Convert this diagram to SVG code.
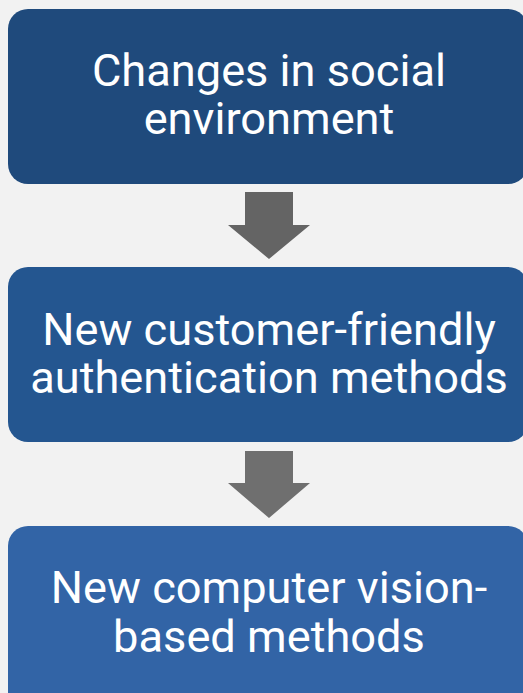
<svg xmlns="http://www.w3.org/2000/svg" width="523" height="693" viewBox="0 0 523 693">
<style>
.lbl{font-family:Roboto,"Liberation Sans",sans-serif;font-size:45.2px;fill:#ffffff;text-anchor:middle}
</style>
<rect x="0" y="0" width="523" height="693" fill="#f2f2f2"/>
<g id="node1">
<rect x="8" y="9" width="520" height="175" rx="20" fill="#1f4a7c"/>
<text class="lbl" x="269" y="86">Changes in social</text>
<text class="lbl" x="269" y="134">environment</text>
</g>
<g id="node2">
<rect x="8" y="267" width="520" height="175" rx="20" fill="#245690"/>
<text class="lbl" x="269" y="345">New customer-friendly</text>
<text class="lbl" x="269" y="393">authentication methods</text>
</g>
<g id="node3">
<rect x="8" y="526" width="520" height="190" rx="20" fill="#3264a6"/>
<text class="lbl" x="269" y="603">New computer vision-</text>
<text class="lbl" x="269" y="652">based methods</text>
</g>
<g id="connectors">
<polygon points="245,192 293,192 293,225 310,225 269,259 228,225 245,225" fill="#646464"/>
<polygon points="245,451 293,451 293,483 310,483 269,518 228,483 245,483" fill="#6f6f6f"/>
</g>
</svg>
